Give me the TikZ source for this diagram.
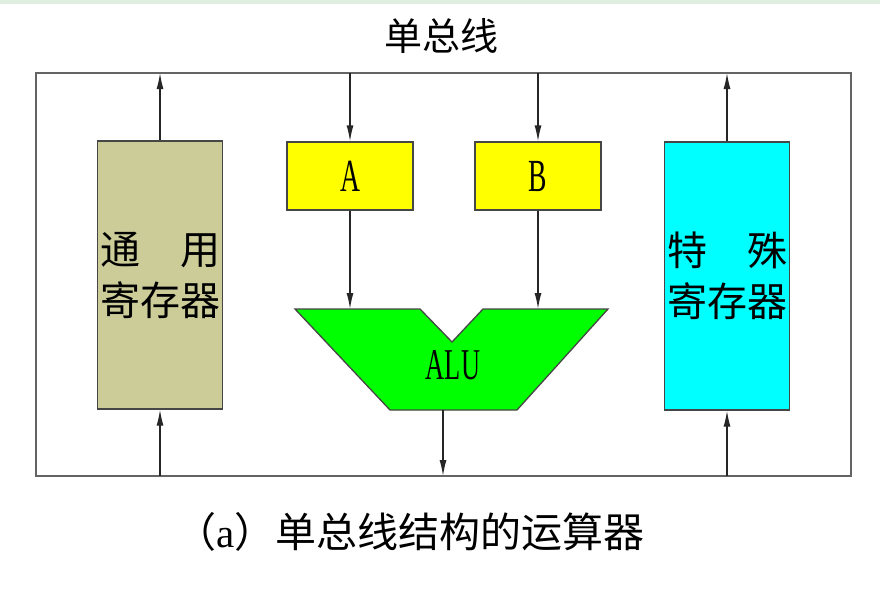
\documentclass[tikz,border=0pt]{standalone}
\usepackage{fontspec}
\setmainfont{Liberation Serif}
\newfontfamily\cjk{Noto Sans CJK SC}
\usetikzlibrary{arrows.meta}

\definecolor{gprfill}{RGB}{204,204,153}
\definecolor{regfill}{RGB}{255,255,0}
\definecolor{alufill}{RGB}{0,255,0}
\definecolor{sprfill}{RGB}{0,255,255}
\definecolor{boxline}{RGB}{70,70,70}
\definecolor{busgray}{RGB}{100,100,100}
\definecolor{topband}{RGB}{224,238,224}

\begin{document}
\begin{tikzpicture}[x=1pt, y=-1pt, line join=miter,
  box/.style={draw=boxline, line width=1.3pt, inner sep=0pt},
  regbox/.style={box, minimum width=125pt, minimum height=268pt,
    align=center, font=\cjk\fontsize{40}{51}\selectfont},
  opbox/.style={box, fill=regfill, minimum width=126pt, minimum height=68pt,
    font=\fontsize{46}{50}\selectfont},
  link/.style={line width=1.3pt, draw=black!85, -{Latex[length=16pt,width=7pt]}}]

  %% ════ 截图顶部的浅色条 ════
  \fill[topband] (0,0) rectangle (880,4);

  %% ════ 总线（外框）════
  \coordinate (busNW) at (36,73);
  \coordinate (busSE) at (851,476);
  \draw[busgray, line width=2.2pt] (busNW) rectangle (busSE);
  \node[font=\cjk\fontsize{38}{44}\selectfont] (title) at (441,36) {单总线};

  %% ════ 寄存器 ════
  \node[regbox, fill=gprfill] (gpr) at (160,275) {通\hspace{40pt}用\\寄存器};
  \node[regbox, fill=sprfill] (spr) at (727,276) {特\hspace{40pt}殊\\寄存器};
  \node[opbox] (a) at (350,176) {\scalebox{0.6}[1]{A}};
  \node[opbox] (b) at (538,176) {\scalebox{0.6}[1]{B}};

  %% ════ ALU（缺口梯形）════
  \coordinate (aluL) at (295,309);
  \coordinate (aluR) at (608,309);
  \draw[box, fill=alufill] (aluL) -- (420,309) -- (452,342) -- (483,309)
    -- (aluR) -- (517,410) -- (390,410) -- cycle;
  \coordinate (aluout) at (443,410);
  \node[font=\fontsize{44}{48}\selectfont] (alu) at (453,365) {\scalebox{0.6}[1]{ALU}};

  %% ════ 连线 ════
  \draw[link] (gpr.north) -- (gpr.north |- busNW);
  \draw[link] (spr.north) -- (spr.north |- busNW);
  \draw[link] (a.north |- busNW) -- (a.north);
  \draw[link] (b.north |- busNW) -- (b.north);
  \draw[link] (a.south) -- (a.south |- aluL);
  \draw[link] (b.south) -- (b.south |- aluL);
  \draw[link] (aluout) -- (aluout |- busSE);
  \draw[link] (gpr.south |- busSE) -- (gpr.south);
  \draw[link] (spr.south |- busSE) -- (spr.south);

  %% ════ 图注 ════
  \node[font=\cjk\fontsize{41}{46}\selectfont] (caption) at (410,532) {（{\rmfamily a}）单总线结构的运算器};

  \pgfresetboundingbox
  \path[use as bounding box] (0,0) rectangle (880,590);
\end{tikzpicture}
\end{document}
